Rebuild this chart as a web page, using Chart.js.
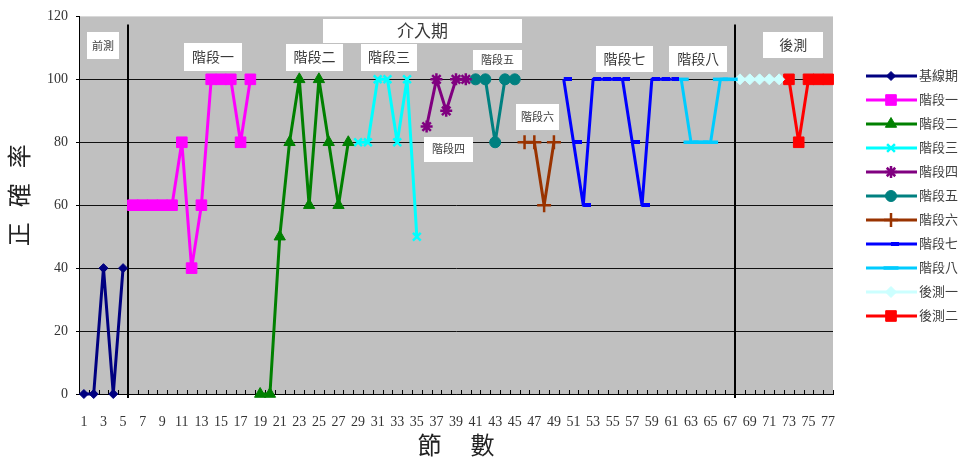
<!DOCTYPE html>
<html>
<head>
<meta charset="utf-8">
<script src="https://cdn.jsdelivr.net/npm/chart.js@4/dist/chart.umd.min.js"></script>
<style>
  html, body { margin: 0; padding: 0; background: #fff; }
  #wrap { width: 959px; height: 464px; position: relative; }
</style>
</head>
<body>
<div id="wrap"><canvas id="c"></canvas></div>
<script>
// Session numbers on the x axis
const categories = ['1','2','3','4','5','6','7','8','9','10','11','12','13','14','15','16','17','18','19','20',
  '21','22','23','24','25','26','27','28','29','30','31','32','33','34','35','36','37','38','39','40',
  '41','42','43','44','45','46','47','48','49','50','51','52','53','54','55','56','57','58','59','60',
  '61','62','63','64','65','66','67','68','69','70','71','72','73','74','75','76','77'];
const yTicks = [0, 20, 40, 60, 80, 100, 120];

// Series names (legend order)
const seriesNames = ['基線期','階段一','階段二','階段三','階段四','階段五','階段六','階段七','階段八','後測一','後測二'];
// First session of each phase
const seriesStart = [1, 6, 19, 29, 36, 41, 46, 50, 62, 68, 73];

// Accuracy (%) per session, phase by phase
const baseline = [0, 0, 40, 0, 40];
const phase1 = [60, 60, 60, 60, 60, 80, 40, 60, 100, 100, 100, 80, 100];
const phase2 = [0, 0, 50, 80, 100, 60, 100, 80, 60, 80];
const phase3 = [80, 80, 100, 100, 80, 100, 50];
const phase4 = [85, 100, 90, 100, 100];
const phase5 = [100, 100, 80, 100, 100];
const phase6 = [80, 80, 60, 80];
const phase7 = [100, 80, 60, 100, 100, 100, 100, 80, 60, 100, 100, 100];
const phase8 = [100, 80, 80, 80, 100, 100];
const post1 = [100, 100, 100, 100, 100];
const post2 = [100, 80, 100, 100, 100];

const seriesValues = [baseline, phase1, phase2, phase3, phase4, phase5, phase6, phase7, phase8, post1, post2];

// Phase captions: position in axis units (category index, value), box size in px
const notes = [
  { text: '前測',   x: 1.95,  y: 110.7, w: 32,  h: 27, size: 11 },
  { text: '階段一', x: 13.19, y: 107.1, w: 58,  h: 28, size: 14 },
  { text: '階段二', x: 23.55, y: 106.9, w: 57,  h: 27, size: 14 },
  { text: '介入期', x: 34.59, y: 115.3, w: 199, h: 24, size: 17 },
  { text: '階段三', x: 31.16, y: 106.9, w: 56,  h: 27, size: 14 },
  { text: '階段四', x: 37.24, y: 77.7,  w: 49,  h: 25, size: 11 },
  { text: '階段五', x: 42.25, y: 106.1, w: 49,  h: 20, size: 11 },
  { text: '階段六', x: 46.33, y: 88.1,  w: 43,  h: 26, size: 11 },
  { text: '階段七', x: 55.22, y: 106.4, w: 57,  h: 26, size: 14 },
  { text: '階段八', x: 62.73, y: 106.4, w: 58,  h: 26, size: 14 },
  { text: '後測',   x: 72.43, y: 110.8, w: 60,  h: 26, size: 14 }
];
// Phase dividers sit between these session pairs
const dividers = [[5, 6], [67, 68]];

const CJK = '"Liberation Serif", "Noto Sans CJK TC", serif';

// short dash marker that starts at the point and runs to the right
function dashMarker(color) {
  const c = document.createElement('canvas');
  c.width = 16; c.height = 4;
  const g = c.getContext('2d');
  g.fillStyle = color;
  g.fillRect(8, 0, 8, 4);
  return c;
}

const looks = [
  { color: '#000080', style: 'rectRot',  r: 4.5, bw: 1 },
  { color: '#FF00FF', style: 'rect',     r: 7.5, bw: 1 },
  { color: '#008000', style: 'triangle', r: 6.5, bw: 1 },
  { color: '#00FFFF', style: 'crossRot', r: 5.5, bw: 2.5 },
  { color: '#800080', style: 'star',     r: 6,   bw: 2.5 },
  { color: '#008080', style: 'circle',   r: 5.5, bw: 1 },
  { color: '#993300', style: 'cross',    r: 7,   bw: 2.5 },
  { color: '#0000FF', style: dashMarker('#0000FF'), r: 4, bw: 0 },
  { color: '#00CCFF', style: 'line',     r: 7.5, bw: 3.5 },
  { color: '#CCFFFF', style: 'rectRot',  r: 5.5, bw: 1 },
  { color: '#FF0000', style: 'rect',     r: 7.5, bw: 1 }
];

const datasets = seriesNames.map((name, i) => {
  const data = categories.map(() => null);
  seriesValues[i].forEach((v, k) => { data[seriesStart[i] - 1 + k] = v; });
  const lk = looks[i];
  return {
    label: name,
    data: data,
    borderColor: lk.color,
    backgroundColor: lk.color,
    borderWidth: 3,
    borderJoinStyle: 'round',
    borderCapStyle: 'butt',
    tension: 0,
    spanGaps: false,
    clip: false,
    pointStyle: lk.style,
    pointRadius: lk.r,
    pointHoverRadius: lk.r,
    pointBackgroundColor: lk.color,
    pointBorderColor: lk.color,
    pointBorderWidth: lk.bw
  };
});

const decorations = {
  id: 'decorations',
  beforeDatasetsDraw(chart) {
    const { ctx, chartArea: a, scales: { x } } = chart;
    ctx.save();
    // inward tick marks at every session boundary
    ctx.strokeStyle = '#000';
    ctx.lineWidth = 1;
    ctx.beginPath();
    for (let i = 0; i <= categories.length; i++) {
      const px = Math.round(x.getPixelForValue(i - 0.5)) + 0.5;
      ctx.moveTo(px, a.bottom - 4);
      ctx.lineTo(px, a.bottom);
    }
    ctx.stroke();
    // phase dividers
    ctx.lineWidth = 2;
    dividers.forEach(([p, q]) => {
      const px = Math.round((x.getPixelForValue(p - 1) + x.getPixelForValue(q - 1)) / 2);
      ctx.beginPath();
      ctx.moveTo(px, a.top + 8);
      ctx.lineTo(px, a.bottom + 4);
      ctx.stroke();
    });
    ctx.restore();
  },
  afterDatasetsDraw(chart) {
    const { ctx, scales: { x, y } } = chart;
    ctx.save();
    notes.forEach(n => {
      const cx = x.getPixelForValue(n.x);
      const cy = y.getPixelForValue(n.y);
      ctx.fillStyle = '#fff';
      ctx.fillRect(Math.round(cx - n.w / 2), Math.round(cy - n.h / 2), n.w, n.h);
      ctx.fillStyle = '#3a3a3a';
      ctx.font = n.size + 'px ' + CJK;
      ctx.textAlign = 'center';
      ctx.textBaseline = 'middle';
      ctx.fillText(n.text, cx, cy + 1);
    });
    ctx.restore();
  },
  afterDraw(chart) {
    const { ctx, chartArea: a } = chart;
    ctx.save();
    // axis titles
    ctx.fillStyle = '#222';
    ctx.font = '24px ' + CJK;
    ctx.textAlign = 'center';
    ctx.textBaseline = 'middle';
    const xt = ['節', '數'];
    const xc = (a.left + a.right) / 2;
    xt.forEach((ch, i) => ctx.fillText(ch, xc + (i - 0.5) * 53, 448));
    const yt = ['正', '確', '率'];
    const yc = (a.top + a.bottom) / 2 - 10;
    yt.forEach((ch, i) => {
      ctx.save();
      ctx.translate(22, yc + (1 - i) * 39);
      ctx.rotate(-Math.PI / 2);
      ctx.fillText(ch, 0, 0);
      ctx.restore();
    });
    // legend: line with marker, then name
    chart.data.datasets.forEach((ds, i) => {
      const ly = 76 + i * 24;
      ctx.strokeStyle = ds.borderColor;
      ctx.lineWidth = 3;
      ctx.beginPath();
      ctx.moveTo(866, ly);
      ctx.lineTo(917, ly);
      ctx.stroke();
      ctx.fillStyle = ds.pointBackgroundColor;
      ctx.strokeStyle = ds.pointBorderColor;
      ctx.lineWidth = ds.pointBorderWidth;
      Chart.helpers.drawPoint(ctx, {
        pointStyle: ds.pointStyle,
        radius: ds.pointRadius,
        rotation: 0,
        borderWidth: ds.pointBorderWidth
      }, 891, ly);
      ctx.fillStyle = '#404040';
      ctx.font = '13px ' + CJK;
      ctx.textAlign = 'left';
      ctx.textBaseline = 'middle';
      ctx.fillText(ds.label, 919, ly + 1);
    });
    ctx.restore();
  }
};

const plotBackground = {
  id: 'plotBackground',
  beforeDraw(chart) {
    const { ctx, chartArea: a } = chart;
    ctx.save();
    ctx.fillStyle = '#C0C0C0';
    ctx.fillRect(a.left, a.top, a.right - a.left, a.bottom - a.top);
    ctx.restore();
  }
};

new Chart(document.getElementById('c'), {
  type: 'line',
  data: { labels: categories, datasets: datasets },
  plugins: [plotBackground, decorations],
  options: {
    responsive: true,
    maintainAspectRatio: false,
    animation: false,
    events: [],
    layout: { padding: { top: 14, right: 126, left: 0, bottom: 0 } },
    plugins: { legend: { display: false }, tooltip: { enabled: false } },
    scales: {
      x: {
        type: 'category',
        offset: true,
        grid: { display: false },
        border: { display: true, color: '#000', width: 1 },
        ticks: {
          autoSkip: false,
          maxRotation: 0,
          minRotation: 0,
          padding: 12,
          color: '#333',
          font: { family: '"Liberation Serif", serif', size: 14 },
          callback: (v, i) => (i % 2 === 0 ? categories[i] : '')
        },
        afterFit(s) { s.height = 70; }
      },
      y: {
        min: 0,
        max: 120,
        afterBuildTicks(s) { s.ticks = yTicks.map(v => ({ value: v })); },
        grid: {
          color: ctx => (ctx.tick && ctx.tick.value === 120 ? 'rgba(0,0,0,0)' : '#111'),
          tickColor: '#000',
          tickLength: 3,
          lineWidth: 1
        },
        border: { display: true, color: '#000', width: 1 },
        ticks: {
          padding: 8,
          color: '#333',
          font: { family: '"Liberation Serif", serif', size: 14 }
        },
        afterFit(s) { s.width = 79; }
      }
    }
  }
});
</script>
</body>
</html>
